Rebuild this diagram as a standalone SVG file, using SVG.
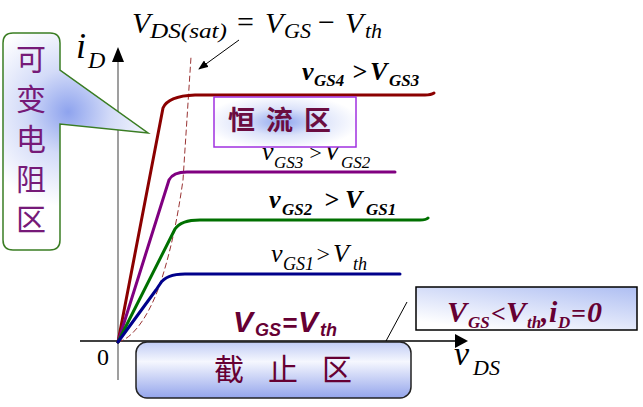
<svg xmlns="http://www.w3.org/2000/svg" width="643" height="407" viewBox="0 0 643 407">
<style>
text{font-family:'Liberation Serif','Times New Roman','DejaVu Serif',serif}
.ser{font-style:italic}
.b{font-weight:bold}
.san{font-family:'Liberation Sans',Arial,sans-serif;font-style:italic;font-weight:bold;fill:#660033}
.cjk{font-family:'Noto Sans CJK SC','Noto Sans CJK JP',sans-serif}
.curve{fill:none;stroke-width:3;stroke-linejoin:round;stroke-linecap:round}
.dash{fill:none;stroke:#993333;stroke-width:1;stroke-dasharray:6,3}
.thin{fill:none;stroke:#000;stroke-width:1}
</style>
<defs>
<radialGradient id="gCall" gradientUnits="userSpaceOnUse" cx="68" cy="112" r="95">
<stop offset="0" stop-color="#8ea3ee"/><stop offset="0.45" stop-color="#d3dbf8"/><stop offset="1" stop-color="#ffffff"/>
</radialGradient>
<radialGradient id="gConst" cx="0.48" cy="0.5" r="0.55">
<stop offset="0" stop-color="#8fa6ee"/><stop offset="0.5" stop-color="#dce3fa"/><stop offset="1" stop-color="#ffffff"/>
</radialGradient>
<linearGradient id="gCut" x1="0" y1="0" x2="0" y2="1">
<stop offset="0" stop-color="#c1ccf5"/><stop offset="0.35" stop-color="#f5f7fe"/><stop offset="1" stop-color="#94a5ec"/>
</linearGradient>
<linearGradient id="gCond" x1="1" y1="0" x2="0.3" y2="1">
<stop offset="0" stop-color="#aebef2"/><stop offset="1" stop-color="#ffffff"/>
</linearGradient>
<marker id="ah" markerWidth="10" markerHeight="8" refX="9" refY="4" orient="auto" markerUnits="userSpaceOnUse">
<path d="M0,0 L10,4 L0,8 Z" fill="#000"/>
</marker>
</defs>
<rect width="643" height="407" fill="#fff"/>

<g id="axes">
<line x1="118" y1="380" x2="118" y2="60" stroke="#7f7f7f" stroke-width="1.5"/>
<polygon points="118,47 112,62 124,62" fill="#000"/>
<line x1="80" y1="341" x2="456" y2="341" stroke="#000" stroke-width="1.5"/>
<polygon points="468,341 455,334 455,348" fill="#000"/>
<text class="ser" font-size="36"><tspan x="76" y="58">i</tspan><tspan x="88" y="68" font-size="24">D</tspan></text>
<text class="ser" font-size="34"><tspan x="454" y="365">v</tspan><tspan x="473" y="375" font-size="22">DS</tspan></text>
<text x="97" y="365" font-size="24">0</text>
</g>

<g id="formula">
<text class="ser" font-size="30"><tspan x="132" y="33">V</tspan><tspan x="150" y="38" font-size="22" textLength="77" lengthAdjust="spacingAndGlyphs">DS(sat)</tspan><tspan x="237" y="32" font-style="normal">=</tspan><tspan x="265" y="33">V</tspan><tspan x="284" y="38" font-size="22">GS</tspan><tspan x="318" y="32" font-style="normal">−</tspan><tspan x="345" y="33">V</tspan><tspan x="365" y="38" font-size="22">th</tspan></text>
</g>

<g id="curves">
<path class="dash" d="M118,342 C135,338 152,310 162,278 S178,215 183,180 L191,57"/>
<path class="curve" stroke="#8b0000" d="M118,342 L163,108 Q168,96 195,95 H425 Q431,95 434,93"/>
<path class="curve" stroke="#800080" d="M118,342 L169,180 Q173,172 187,172 H395"/>
<path class="curve" stroke="#007000" d="M118,342 L175,229 Q181,220 200,220 H420 Q426,220 428,218"/>
<path class="curve" stroke="#00008b" d="M118,342 L156,290 L160,284 Q166,274 185,274 H400"/>
</g>

<g id="labels">
<text class="ser b" font-size="26"><tspan x="302" y="80">v</tspan><tspan x="314" y="86" font-size="17">GS4</tspan><tspan x="352" y="80">&gt;</tspan><tspan x="370" y="80">V</tspan><tspan x="389" y="86" font-size="17">GS3</tspan></text>
<text class="ser" font-size="26"><tspan x="262" y="160">v</tspan><tspan x="274" y="168" font-size="17">GS3</tspan><tspan x="308" y="160" font-size="22">&gt;</tspan><tspan x="324" y="160">V</tspan><tspan x="341" y="168" font-size="17">GS2</tspan></text>
<text class="ser b" font-size="26"><tspan x="269" y="208">v</tspan><tspan x="282" y="215" font-size="17">GS2</tspan><tspan x="324" y="208">&gt;</tspan><tspan x="345" y="208">V</tspan><tspan x="366" y="215" font-size="17">GS1</tspan></text>
<text class="ser" font-size="26"><tspan x="271" y="262">v</tspan><tspan x="283" y="270" font-size="18">GS1</tspan><tspan x="315" y="262" font-size="24">&gt;</tspan><tspan x="333" y="262">V</tspan><tspan x="353" y="270" font-size="18">th</tspan></text>
<text class="san" font-size="30"><tspan x="233" y="332">V</tspan><tspan x="255" y="336" font-size="18">GS</tspan><tspan x="282" y="332" font-size="26">=</tspan><tspan x="298" y="332">V</tspan><tspan x="320" y="336" font-size="18">th</tspan></text>
</g>

<g id="connectors">
<line class="thin" x1="239" y1="40" x2="199" y2="69" marker-end="url(#ah)"/>
<line class="thin" x1="386" y1="341" x2="407" y2="302"/>
</g>

<g id="variable-resistance">
<path d="M13,33 H50 Q60,33 60,43 V70 L148,133 L60,124 V240 Q60,250 50,250 H13 Q3,250 3,240 V43 Q3,33 13,33 Z" fill="url(#gCall)" stroke="#3a7d23" stroke-width="1.5"/>
<text class="cjk" font-size="30" fill="#761a78" text-anchor="middle"><tspan x="31" y="70">可</tspan><tspan x="31" y="110">变</tspan><tspan x="31" y="150">电</tspan><tspan x="31" y="190">阻</tspan><tspan x="31" y="230">区</tspan></text>
</g>

<g id="constant-current">
<rect x="214" y="97" width="142" height="50" fill="url(#gConst)" stroke="#a030e0" stroke-width="1.5"/>
<text class="cjk" x="228" y="130" font-size="27" font-weight="bold" fill="#6b0d40" letter-spacing="11">恒流区</text>
</g>

<g id="cutoff">
<rect x="136" y="342" width="275" height="56" rx="11" fill="url(#gCut)" stroke="#222" stroke-width="1.5"/>
<text class="cjk" font-size="30" fill="#660033" text-anchor="middle"><tspan x="229" y="380">截</tspan><tspan x="283" y="380">止</tspan><tspan x="337" y="380">区</tspan></text>
</g>

<g id="cutoff-condition">
<rect x="416" y="287" width="221" height="43" fill="url(#gCond)" stroke="#000" stroke-width="1.5"/>
<text class="ser b" fill="#660033" font-size="30"><tspan x="447" y="322">V</tspan><tspan x="468" y="328" font-size="17">GS</tspan><tspan x="491" y="322" font-size="26">&lt;</tspan><tspan x="506" y="322">V</tspan><tspan x="527" y="328" font-size="17">th</tspan><tspan x="541" y="322">,</tspan><tspan x="549" y="322">i</tspan><tspan x="558" y="328" font-size="17">D</tspan><tspan x="571" y="322" font-size="26">=</tspan><tspan x="587" y="322">0</tspan></text>
</g>
</svg>
